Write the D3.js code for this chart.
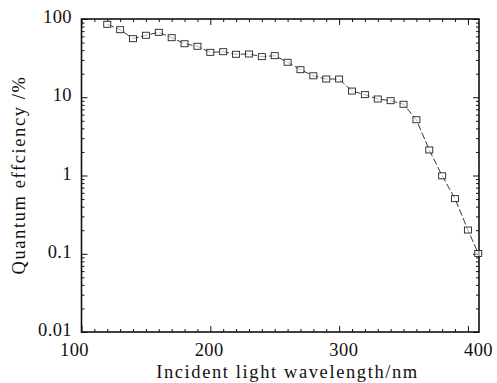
<!DOCTYPE html>
<html>
<head>
<meta charset="utf-8">
<script src="https://cdn.jsdelivr.net/npm/d3@7"></script>
<style>
  body { margin: 0; background: #fff; }
  svg { display: block; }
  .axis text { font-family: "Liberation Serif", serif; font-size: 18.5px; letter-spacing: 0.4px; fill: #111; }
  .title { font-family: "Liberation Serif", serif; font-size: 18.5px; letter-spacing: 1.6px; fill: #111; }
</style>
</head>
<body>
<div id="chart"></div>
<script>
// incident wavelength (nm) and quantum efficiency (%)
const wavelength = [120, 130, 140, 150, 160, 170, 180, 190, 200, 210,
                    220, 230, 240, 250, 260, 270, 280, 290, 300, 310,
                    320, 330, 340, 350, 360, 370, 380, 390, 400, 408];
const efficiency = [85.6, 73, 56, 62, 67.6, 57.7, 48.3, 44.8, 37.5, 38.2,
                    35.4, 35.7, 33, 34, 28, 22.5, 18.8, 17.1, 17.1, 12.0,
                    10.8, 9.5, 9.04, 8.13, 5.16, 2.12, 0.99, 0.506, 0.201, 0.101];

const xTickLabels = [100, 200, 300, 400];
const yTickValues = [0.01, 0.1, 1, 10, 100];
const yTickLabels = ['0.01', '0.1', '1', '10', '100'];

const width = 497, height = 383;
const margin = { left: 81.5, right: 18, top: 19, bottom: 51 };
const plotW = width - margin.left - margin.right;
const plotH = height - margin.top - margin.bottom;

const data = wavelength.map((w, i) => ({ w: w, q: efficiency[i] }));

const x = d3.scaleLinear().domain([100, 408.6]).range([0, plotW]);
// tick labels in the source sit on a slightly stretched grid
const xLab = d3.scaleLinear().domain([100, 400]).range([-7.5, 396.5]);
const y = d3.scaleLog().domain([0.01, 100]).range([plotH, 0]);

const svg = d3.select('#chart')
  .append('svg')
  .attr('width', width)
  .attr('height', height);

const g = svg.append('g')
  .attr('transform', `translate(${margin.left},${margin.top})`);

const xMinor = d3.range(110, 409, 10).filter(v => v % 100 !== 0);
const xMajor = xTickLabels;
const yMinor = [];
yTickValues.slice(0, -1).forEach(d => { for (let k = 2; k <= 9; k++) yMinor.push(d * k); });

function styleTicks(sel) {
  sel.select('.domain').remove();
  sel.selectAll('line').attr('stroke', '#111').attr('stroke-width', 1);
}

// bottom ticks (inward)
g.append('g').attr('class', 'axis').attr('transform', `translate(0,${plotH})`)
  .call(d3.axisTop(x).tickValues(xMinor).tickSize(3).tickFormat(''))
  .call(styleTicks);
g.append('g').attr('class', 'axis').attr('transform', `translate(0,${plotH})`)
  .call(d3.axisTop(x).tickValues(xMajor).tickSize(6).tickFormat(''))
  .call(styleTicks);
// top ticks (inward)
g.append('g').attr('class', 'axis')
  .call(d3.axisBottom(x).tickValues(xMinor).tickSize(3).tickFormat(''))
  .call(styleTicks);
g.append('g').attr('class', 'axis')
  .call(d3.axisBottom(x).tickValues(xMajor).tickSize(6).tickFormat(''))
  .call(styleTicks);

// x tick labels
g.append('g').attr('class', 'axis').attr('transform', `translate(0,${plotH})`)
  .call(d3.axisBottom(xLab).tickValues(xTickLabels).tickSize(0).tickPadding(11).tickFormat(d3.format('d')))
  .call(sel => sel.select('.domain').remove());

// left ticks (inward)
g.append('g').attr('class', 'axis')
  .call(d3.axisRight(y).tickValues(yMinor).tickSize(3).tickFormat(''))
  .call(styleTicks);
g.append('g').attr('class', 'axis')
  .call(d3.axisRight(y).tickValues(yTickValues).tickSize(6).tickFormat(''))
  .call(styleTicks);
// right ticks (inward)
g.append('g').attr('class', 'axis').attr('transform', `translate(${plotW},0)`)
  .call(d3.axisLeft(y).tickValues(yMinor).tickSize(3).tickFormat(''))
  .call(styleTicks);
g.append('g').attr('class', 'axis').attr('transform', `translate(${plotW},0)`)
  .call(d3.axisLeft(y).tickValues(yTickValues).tickSize(6).tickFormat(''))
  .call(styleTicks);

// y tick labels
g.append('g').attr('class', 'axis')
  .call(d3.axisLeft(y).tickValues(yTickValues).tickSize(0).tickPadding(9.5)
    .tickFormat((d, i) => yTickLabels[i]))
  .call(sel => sel.select('.domain').remove())
  .selectAll('text').attr('dy', '0.2em');

// frame
g.append('rect')
  .attr('width', plotW)
  .attr('height', plotH)
  .attr('fill', 'none')
  .attr('stroke', '#111')
  .attr('stroke-width', 1.6);

// data line
const line = d3.line()
  .x(d => x(d.w))
  .y(d => y(d.q));

g.append('path')
  .datum(data)
  .attr('d', line)
  .attr('fill', 'none')
  .attr('stroke', '#222')
  .attr('stroke-width', 0.9)
  .attr('stroke-dasharray', '7,2.5');

g.selectAll('.point')
  .data(data)
  .enter()
  .append('rect')
  .attr('class', 'point')
  .attr('x', d => x(d.w) - 3.5)
  .attr('y', d => y(d.q) - 3)
  .attr('width', 7)
  .attr('height', 6)
  .attr('fill', '#fff')
  .attr('fill-opacity', 0.6)
  .attr('stroke', '#222')
  .attr('stroke-width', 0.9);

// axis titles
svg.append('text')
  .attr('class', 'title')
  .attr('x', 287.5)
  .attr('y', 378)
  .attr('text-anchor', 'middle')
  .text('Incident light wavelength/nm');

svg.append('text')
  .attr('class', 'title')
  .attr('transform', 'translate(25,175) rotate(-90)')
  .attr('text-anchor', 'middle')
  .text('Quantum effciency /%');
</script>
</body>
</html>
